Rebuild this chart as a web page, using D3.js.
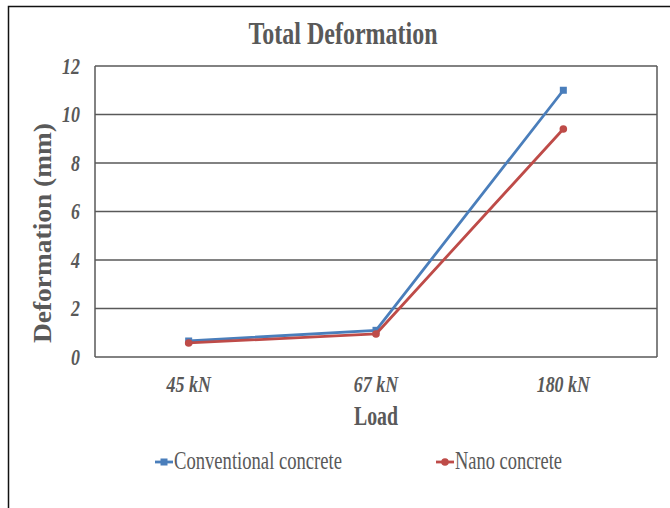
<!DOCTYPE html>
<html>
<head>
<meta charset="utf-8">
<script src="https://cdn.jsdelivr.net/npm/d3@7.8.5/dist/d3.min.js"></script>
<style>
  html, body { margin: 0; padding: 0; background: #fff; }
  svg { display: block; }
</style>
</head>
<body>
<div id="chart"></div>
<script>
// chart data
const loads = ['45 kN', '67 kN', '180 kN'];
const conventional = [0.66, 1.1, 11.0];
const nano = [0.58, 0.95, 9.4];
const yTicks = [0, 2, 4, 6, 8, 10, 12];
const seriesNames = ['Conventional concrete', 'Nano concrete'];

const width = 670, height = 508;
const margin = { top: 66, right: 13, bottom: 151, left: 95 };
const grey = '#595959';
const serif = '"Liberation Serif", "Times New Roman", serif';
const squeeze = 0.78; // reference text is horizontally condensed

const svg = d3.select('#chart').append('svg')
    .attr('width', width)
    .attr('height', height);

// outer frame (top + left edges visible in the reference)
svg.append('path')
    .attr('d', `M8.5,${height} L8.5,6.5 L${width},6.5`)
    .attr('fill', 'none')
    .attr('stroke', '#111')
    .attr('stroke-width', 1.5);

const x = d3.scalePoint()
    .domain(loads)
    .range([margin.left, width - margin.right])
    .padding(0.5);

const y = d3.scaleLinear()
    .domain([0, 12])
    .range([height - margin.bottom, margin.top]);

const fitText = (sel, len) => sel.attr('textLength', len).attr('lengthAdjust', 'spacingAndGlyphs');

// title
svg.append('text')
    .attr('x', 343)
    .attr('y', 44)
    .attr('text-anchor', 'middle')
    .attr('font-family', serif)
    .attr('font-weight', 'bold')
    .attr('font-size', 31)
    .attr('fill', grey)
    .text('Total Deformation')
    .call(fitText, 189);

// gridlines
svg.append('g')
    .selectAll('line')
    .data(yTicks)
    .enter()
    .append('line')
    .attr('x1', margin.left)
    .attr('x2', width - margin.right)
    .attr('y1', d => y(d))
    .attr('y2', d => y(d))
    .attr('stroke', grey)
    .attr('stroke-width', 1.5);

// plot side borders
svg.append('g')
    .selectAll('line')
    .data([margin.left, width - margin.right])
    .enter()
    .append('line')
    .attr('x1', d => d)
    .attr('x2', d => d)
    .attr('y1', y(12))
    .attr('y2', y(0))
    .attr('stroke', grey)
    .attr('stroke-width', 1.5);

// y tick labels
svg.append('g')
    .selectAll('text')
    .data(yTicks)
    .enter()
    .append('text')
    .attr('transform', d => `translate(80,${y(d) + 7.5}) scale(${squeeze},1)`)
    .attr('text-anchor', 'end')
    .attr('font-family', serif)
    .attr('font-style', 'italic')
    .attr('font-weight', 'bold')
    .attr('font-size', 23)
    .attr('fill', grey)
    .text(d => d);

// x tick labels
svg.append('g')
    .selectAll('text')
    .data(loads)
    .enter()
    .append('text')
    .attr('transform', d => `translate(${x(d)},392) scale(${squeeze},1)`)
    .attr('text-anchor', 'middle')
    .attr('font-family', serif)
    .attr('font-style', 'italic')
    .attr('font-weight', 'bold')
    .attr('font-size', 23)
    .attr('fill', grey)
    .text(d => d);

// axis titles
svg.append('text')
    .attr('x', 376)
    .attr('y', 425)
    .attr('text-anchor', 'middle')
    .attr('font-family', serif)
    .attr('font-weight', 'bold')
    .attr('font-size', 27)
    .attr('fill', grey)
    .text('Load')
    .call(fitText, 44);

svg.append('text')
    .attr('transform', 'translate(51,233) rotate(-90)')
    .attr('text-anchor', 'middle')
    .attr('font-family', serif)
    .attr('font-weight', 'bold')
    .attr('font-size', 26)
    .attr('fill', grey)
    .text('Deformation (mm)')
    .call(fitText, 220);

// series
const series = [
    { name: seriesNames[0], values: conventional, color: '#4a7ebb', shape: 'square' },
    { name: seriesNames[1], values: nano, color: '#be4b48', shape: 'circle' }
];

const line = d3.line()
    .x((d, i) => x(loads[i]))
    .y(d => y(d));

const drawMarker = (g, s, cx, cy) => {
    if (s.shape === 'square') {
        g.append('rect')
            .attr('x', cx - 3.5).attr('y', cy - 3.5)
            .attr('width', 7).attr('height', 7)
            .attr('fill', s.color);
    } else {
        g.append('circle')
            .attr('cx', cx).attr('cy', cy).attr('r', 3.8)
            .attr('fill', s.color);
    }
};

series.forEach(s => {
    const g = svg.append('g');
    g.append('path')
        .datum(s.values)
        .attr('d', line)
        .attr('fill', 'none')
        .attr('stroke', s.color)
        .attr('stroke-width', 2.8)
        .attr('stroke-linejoin', 'round');
    s.values.forEach((v, i) => drawMarker(g, s, x(loads[i]), y(v)));
});

// legend
const legendX = [155, 436];
const legendLen = [168, 107];
series.forEach((s, i) => {
    const g = svg.append('g');
    g.append('line')
        .attr('x1', legendX[i]).attr('x2', legendX[i] + 18)
        .attr('y1', 462).attr('y2', 462)
        .attr('stroke', s.color)
        .attr('stroke-width', 2.8);
    drawMarker(g, s, legendX[i] + 9, 462);
    g.append('text')
        .attr('x', legendX[i] + 19)
        .attr('y', 469)
        .attr('font-family', serif)
        .attr('font-size', 26)
        .attr('fill', grey)
        .text(s.name)
        .call(fitText, legendLen[i]);
});
</script>
</body>
</html>
